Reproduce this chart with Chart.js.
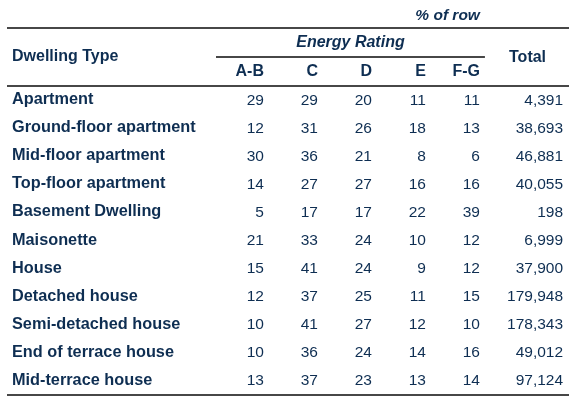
<!DOCTYPE html>
<html>
<head>
<meta charset="utf-8">
<script src="https://cdn.jsdelivr.net/npm/chart.js@4"></script>
<style>
  body { margin: 0; background: #fff; }
  #wrap { width: 579px; height: 402px; }
</style>
</head>
<body>
<div id="wrap"><canvas id="table-chart"></canvas></div>
<script>
const dwellingTypes = [
  'Apartment', 'Ground-floor apartment', 'Mid-floor apartment', 'Top-floor apartment',
  'Basement Dwelling', 'Maisonette', 'House', 'Detached house',
  'Semi-detached house', 'End of terrace house', 'Mid-terrace house'
];
const columnLabels = ['A-B', 'C', 'D', 'E', 'F-G', 'Total'];

const ratingAB = [29, 12, 30, 14, 5, 21, 15, 12, 10, 10, 13];
const ratingC = [29, 31, 36, 27, 17, 33, 41, 37, 41, 36, 37];
const ratingD = [20, 26, 21, 27, 17, 24, 24, 25, 27, 24, 23];
const ratingE = [11, 18, 8, 16, 22, 10, 9, 11, 12, 14, 13];
const ratingFG = [11, 13, 6, 16, 39, 12, 12, 15, 10, 16, 14];
const totals = [4391, 38693, 46881, 40055, 198, 6999, 37900, 179948, 178343, 49012, 97124];

const columnValues = [ratingAB, ratingC, ratingD, ratingE, ratingFG, totals];
// x position of each column on the linear scale (Total sits a bit further out)
const columnPos = [0, 1, 2, 3, 4, 5.54];

const navy = '#0e2e52';
const family = '"Liberation Sans", Arial, sans-serif';
const rowFont = 'bold 16.3px ' + family;
const headFont = 'bold 16px ' + family;
const italicFont = 'italic bold 16px ' + family;
const smallItalic = 'italic bold 15.5px ' + family;
const plainFont = '15.5px ' + family;

function fmt(v) {
  return v.toLocaleString('en-US');
}

const datasets = columnValues.map((vals, c) => ({
  label: columnLabels[c],
  values: vals,
  data: dwellingTypes.map(name => ({ x: columnPos[c], y: name })),
  pointRadius: 0,
  showLine: false,
}));

const tablePlugin = {
  id: 'tablePlugin',
  afterDatasetsDraw(chart) {
    const ctx = chart.ctx;
    const area = chart.chartArea;
    const x = chart.scales.x;
    const y = chart.scales.y;

    ctx.save();
    ctx.fillStyle = navy;
    ctx.textBaseline = 'alphabetic';

    // rules
    ctx.strokeStyle = '#0a0a0a';
    ctx.lineWidth = 1.5;
    const hline = (x1, x2, yy) => {
      ctx.beginPath();
      ctx.moveTo(x1, yy);
      ctx.lineTo(x2, yy);
      ctx.stroke();
    };
    hline(area.left, area.right, area.top - 58);
    hline(area.left, area.right, area.top);
    hline(area.left, area.right, area.bottom);
    const erLeft = x.getPixelForValue(columnPos[0]) - 48;
    const erRight = x.getPixelForValue(columnPos[4]) + 5;
    hline(erLeft, erRight, area.top - 29);

    // header texts
    ctx.font = smallItalic;
    ctx.textAlign = 'right';
    ctx.fillText('% of row', x.getPixelForValue(columnPos[4]), area.top - 66);
    ctx.font = italicFont;
    ctx.textAlign = 'center';
    ctx.fillText('Energy Rating', (erLeft + erRight) / 2, area.top - 39);

    ctx.font = headFont;
    ctx.textAlign = 'left';
    ctx.fillText('Dwelling Type', area.left + 5, area.top - 25);
    ctx.textAlign = 'right';
    ctx.fillText('Total', x.getPixelForValue(columnPos[5]) - 17, area.top - 24);
    for (let c = 0; c < 5; c++) {
      ctx.fillText(columnLabels[c], x.getPixelForValue(columnPos[c]), area.top - 10);
    }

    // row labels
    ctx.font = rowFont;
    ctx.textAlign = 'left';
    dwellingTypes.forEach((name, i) => {
      ctx.fillText(name, area.left + 5, y.getPixelForValue(i) + 4);
    });

    // cell values
    ctx.font = plainFont;
    ctx.textAlign = 'right';
    chart.data.datasets.forEach((ds, di) => {
      const meta = chart.getDatasetMeta(di);
      meta.data.forEach((pt, i) => {
        ctx.fillText(fmt(ds.values[i]), pt.x, pt.y + 4.5);
      });
    });
    ctx.restore();
  }
};

new Chart(document.getElementById('table-chart'), {
  type: 'scatter',
  data: { datasets },
  options: {
    responsive: true,
    maintainAspectRatio: false,
    animation: false,
    layout: { padding: { top: 86, bottom: 7, left: 7, right: 10 } },
    plugins: { legend: { display: false }, tooltip: { enabled: false } },
    scales: {
      x: { type: 'linear', min: -4.76, max: 5.65, display: false },
      y: { type: 'category', labels: dwellingTypes, offset: true, display: false }
    }
  },
  plugins: [tablePlugin]
});
</script>
</body>
</html>
